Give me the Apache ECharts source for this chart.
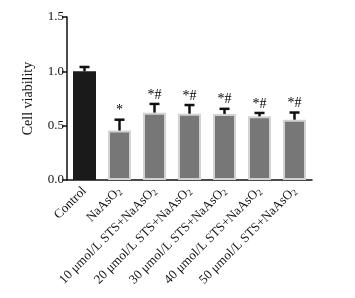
<!DOCTYPE html>
<html>
<head>
<meta charset="utf-8">
<script src="https://cdn.jsdelivr.net/npm/echarts@6/dist/echarts.min.js"></script>
<style>
  html, body { margin: 0; padding: 0; background: #fff; }
  #chart { width: 355px; height: 298px; }
</style>
</head>
<body>
<div id="chart"></div>
<script>
/* data */
const categories = ['Control', 'NaAsO2', '10 μmol/L STS+NaAsO2', '20 μmol/L STS+NaAsO2',
    '30 μmol/L STS+NaAsO2', '40 μmol/L STS+NaAsO2', '50 μmol/L STS+NaAsO2'];
const means = [1.0, 0.455, 0.62, 0.61, 0.608, 0.586, 0.555];
const errors = [0.04, 0.1, 0.08, 0.08, 0.047, 0.031, 0.066];
const marks = ['', '*', '*#', '*#', '*#', '*#', '*#'];
const yTicks = [0, 0.5, 1.0, 1.5];

const font = '"Liberation Serif", "DejaVu Serif", serif';
const chart = echarts.init(document.getElementById('chart'), null, { renderer: 'canvas' });

chart.setOption({
    animation: false,
    grid: { left: 67, right: 43, top: 17, bottom: 118 },
    xAxis: {
        type: 'category',
        data: categories,
        axisLine: { lineStyle: { color: '#111', width: 1.5 } },
        axisTick: { alignWithLabel: true, length: 5, lineStyle: { color: '#111', width: 1.5 } },
        axisLabel: {
            interval: 0,
            rotate: 45,
            margin: 9,
            formatter: v => v.endsWith('NaAsO2') ? '{n|' + v.slice(0, -1) + '}{s|2}' : '{n|' + v + '}',
            rich: {
                n: { fontFamily: font, fontSize: 13, color: '#111' },
                s: { fontFamily: font, fontSize: 9, color: '#111', padding: [6, 0, 0, 0] }
            }
        }
    },
    yAxis: {
        type: 'value',
        min: yTicks[0],
        max: yTicks[yTicks.length - 1],
        interval: 0.5,
        name: 'Cell viability',
        nameLocation: 'middle',
        nameGap: 32,
        nameTextStyle: { fontFamily: font, fontSize: 14, color: '#111' },
        splitLine: { show: false },
        axisLine: { show: true, lineStyle: { color: '#111', width: 1.5 } },
        axisTick: { show: true, length: 5, lineStyle: { color: '#111', width: 1.5 } },
        axisLabel: {
            fontFamily: font, fontSize: 13, color: '#111', margin: 3,
            formatter: v => v.toFixed(1)
        }
    },
    series: [
        {
            type: 'bar',
            barWidth: 23,
            data: means.map((v, i) => ({
                value: v,
                itemStyle: i === 0
                    ? { color: '#1b1a1b', borderColor: '#1b1a1b', borderWidth: 0 }
                    : { color: '#777777', borderColor: '#d2d2d2', borderWidth: 2 }
            }))
        },
        {
            type: 'custom',
            data: means.map((v, i) => [i, v, v + errors[i]]),
            z: 5,
            renderItem: (params, api) => {
                const i = api.value(0);
                const base = api.coord([i, api.value(1)]);
                const top = api.coord([i, api.value(2)]);
                const cap = 5;
                const mark = marks[i];
                const children = [
                    { type: 'line', shape: { x1: base[0], y1: base[1], x2: top[0], y2: top[1] },
                      style: { stroke: '#111', lineWidth: 2.5 } },
                    { type: 'line', shape: { x1: top[0] - cap, y1: top[1], x2: top[0] + cap, y2: top[1] },
                      style: { stroke: '#111', lineWidth: 2.5 } }
                ];
                if (mark) {
                    children.push({
                        type: 'text',
                        x: top[0], y: top[1] - 2,
                        style: {
                            text: mark === '*' ? '{b|*}' : '{a|*}{b|#}',
                            align: 'center', verticalAlign: 'bottom',
                            rich: {
                                a: { fontFamily: font, fontSize: 14, color: '#5a4a22' },
                                b: { fontFamily: font, fontSize: 14, color: '#2d5fa8' }
                            }
                        }
                    });
                }
                return { type: 'group', children };
            }
        }
    ]
});
</script>
</body>
</html>
